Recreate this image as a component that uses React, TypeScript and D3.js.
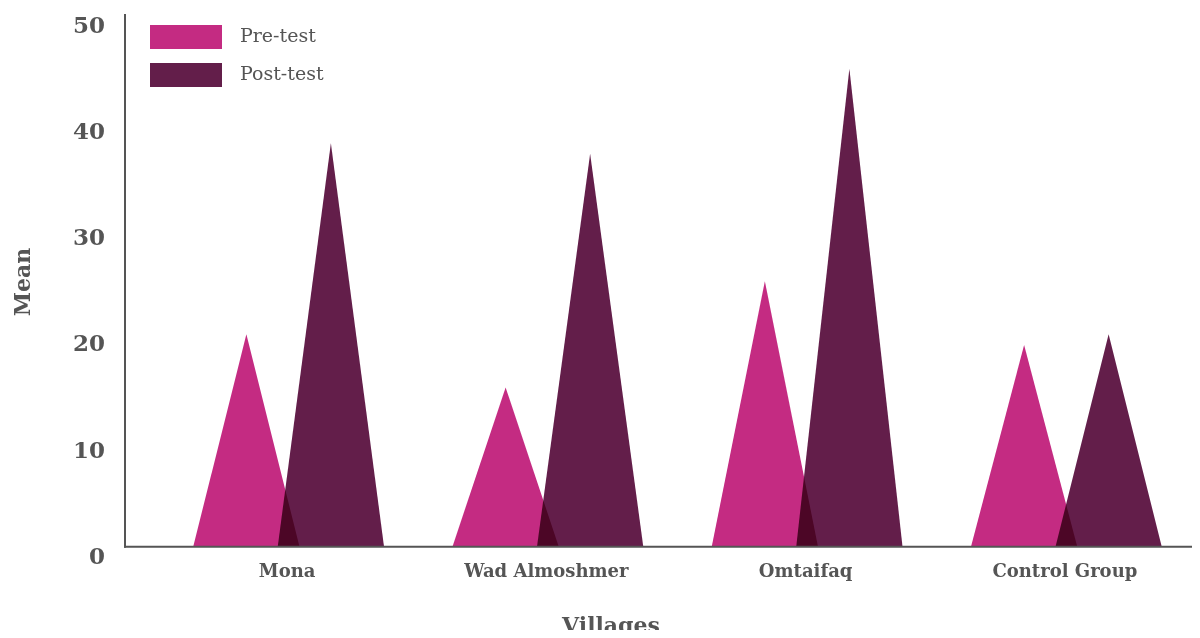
import React, { useEffect, useRef } from 'react';
import * as d3 from 'd3';

// values
const villages = ['Mona', 'Wad Almoshmer', 'Omtaifaq', 'Control Group'];
const preTest = [20, 15, 25, 19];
const postTest = [38, 37, 45, 20];
const yTicks = [0, 10, 20, 30, 40, 50];
const seriesNames = ['Pre-test', 'Post-test'];
const seriesColors = ['#c42b82', '#631e4a'];

const width = 1200;
const height = 638;
const FONT = '"DejaVu Serif", serif';
const TEXT = '#555555';

const App: React.FC = () => {
  const ref = useRef<SVGSVGElement | null>(null);

  useEffect(() => {
    if (!ref.current) return;
    const svg = d3.select(ref.current);
    svg.selectAll('*').remove();

    const plot = { left: 125, right: 1197, top: 15.7, bottom: 546.7 };

    const x = d3.scaleBand<string>()
      .domain(villages)
      .range([159, 1196])
      .padding(0);
    const step = x.bandwidth();
    const triW = step * 0.41;
    const offset = step * 0.163;

    const y = d3.scaleLinear().domain([0, 50]).range([plot.bottom, plot.top]);

    const series = [preTest, postTest];

    const tri = (cx: number, v: number) => {
      const p = d3.path();
      p.moveTo(cx - triW / 2, y(0));
      p.lineTo(cx, y(v));
      p.lineTo(cx + triW / 2, y(0));
      p.closePath();
      return p.toString();
    };

    const marks = svg.append('g').style('isolation', 'isolate');
    series.forEach((vals, si) => {
      marks.selectAll(`path.s${si}`)
        .data(villages)
        .join('path')
        .attr('class', `s${si}`)
        .attr('d', (d, i) => {
          const cx = (x(d) ?? 0) + step / 2 + (si === 0 ? -offset : offset);
          return tri(cx, vals[i]);
        })
        .attr('fill', seriesColors[si])
        .style('mix-blend-mode', 'multiply');
    });

    // axes lines
    svg.append('line')
      .attr('x1', plot.left).attr('x2', plot.left)
      .attr('y1', 14).attr('y2', plot.bottom + 1)
      .attr('stroke', TEXT).attr('stroke-width', 2);
    svg.append('line')
      .attr('x1', plot.left - 1).attr('x2', plot.right + 3)
      .attr('y1', plot.bottom).attr('y2', plot.bottom)
      .attr('stroke', TEXT).attr('stroke-width', 2);

    // y tick labels
    svg.append('g')
      .selectAll('text')
      .data(yTicks)
      .join('text')
      .attr('x', 105)
      .attr('y', d => y(d) + 9)
      .attr('dy', '0.35em')
      .attr('text-anchor', 'end')
      .style('font-family', FONT)
      .style('font-size', '23px')
      .style('font-weight', 'bold')
      .style('fill', TEXT)
      .text(d => d);

    // x labels
    svg.append('g')
      .selectAll('text')
      .data(villages)
      .join('text')
      .attr('x', d => (x(d) ?? 0) + step / 2 - 1.5)
      .attr('y', 571)
      .attr('dy', '0.35em')
      .attr('text-anchor', 'middle')
      .style('font-family', FONT)
      .style('font-size', '18px')
      .style('font-weight', 'bold')
      .style('fill', TEXT)
      .text(d => d);

    // axis titles
    svg.append('text')
      .attr('x', 611)
      .attr('y', 625)
      .attr('dy', '0.35em')
      .attr('text-anchor', 'middle')
      .style('font-family', FONT)
      .style('font-size', '22px')
      .style('font-weight', 'bold')
      .style('fill', TEXT)
      .text('Villages');
    svg.append('text')
      .attr('transform', 'translate(22,282) rotate(-90)')
      .attr('dy', '0.35em')
      .attr('text-anchor', 'middle')
      .style('font-family', FONT)
      .style('font-size', '22px')
      .style('font-weight', 'bold')
      .style('fill', TEXT)
      .text('Mean');

    // legend
    const legend = svg.append('g')
      .selectAll('g')
      .data(seriesNames)
      .join('g')
      .attr('transform', (_, i) => `translate(150,${25 + i * 38})`);
    legend.append('rect')
      .attr('width', 72).attr('height', 24)
      .attr('fill', (_, i) => seriesColors[i]);
    legend.append('text')
      .attr('x', 90).attr('y', 10)
      .attr('dy', '0.35em')
      .style('font-family', FONT)
      .style('font-size', '19px')
      .style('fill', TEXT)
      .text(d => d);
  }, []);

  return <svg ref={ref} width={width} height={height} style={{ display: 'block', margin: '-8px' }} />;
};

export default App;
